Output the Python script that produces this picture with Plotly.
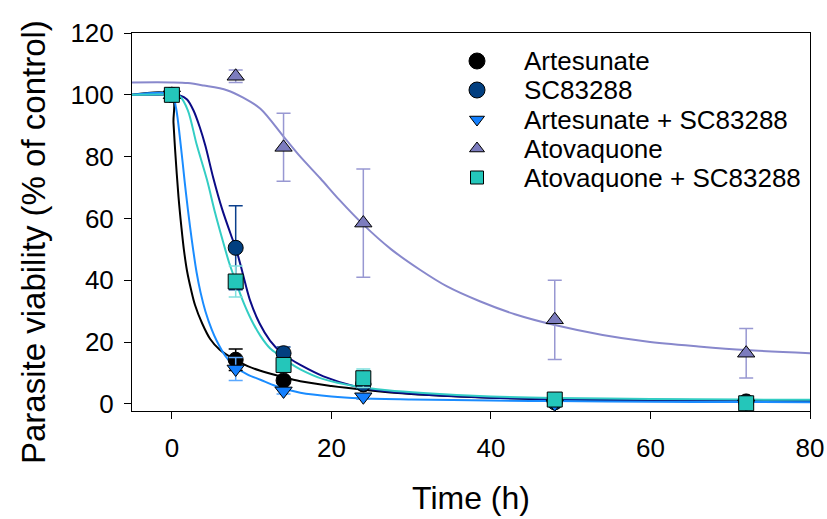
import plotly.graph_objects as go

# ---------------- data ----------------
time_h = [0, 8, 14, 24, 48, 72]

artesunate = [100, 14.3, 7.6, 6.3, 0.8, 0.8]
artesunate_err = [0, 3.5, 1.0, 1.0, 0.5, 0.5]

sc83288 = [100, 50.5, 16.4, 6.5, 0.5, 0.6]
sc83288_err = [0, 13.6, 2.0, 1.5, 0.5, 0.5]

art_sc = [100, 11.3, 4.2, 2.3, 0.0, 0.0]
art_sc_err = [0, 3.7, 1.0, 0.8, 0.3, 0.3]

atovaquone = [100, 106, 83, 58.5, 27.2, 16.4]
atovaquone_err = [0, 2, 11, 17.5, 12.8, 8]

ato_sc = [100, 39.6, 12.6, 8.3, 1.4, 0.2]
ato_sc_err = [0, 5, 1.5, 3, 0.5, 0.3]

# fitted curves
fit_art_t = [-5, 0, 0.2, 0.41, 0.83, 1.2, 1.5, 1.9, 2.4, 2.9, 3.8, 4.8, 6, 7.9, 9.5, 11.1,
             13.6, 16.1, 20, 24, 30, 40, 48, 60, 72, 80]
fit_art_v = [100, 100, 91, 82, 67, 57, 50, 43, 37, 32, 26, 21, 17.5, 14.3, 12.2, 10.7,
             8.9, 7.3, 5.8, 4.6, 3.2, 2.0, 1.4, 1.0, 0.8, 0.7]

fit_sc_t = [-5, 0, 1, 1.9, 2.7, 3.5, 4.2, 5.2, 6.3, 7.5, 8, 8.6, 9.2, 9.8, 11, 12.3, 13.8,
            14.8, 16.1, 19, 23.2, 27, 31.5, 40, 48, 60, 72, 80]
fit_sc_v = [100, 100, 99.8, 98.5, 95, 89.5, 83.5, 73, 63, 54, 50.5, 45, 39, 33.5, 26, 20.5, 16.4,
            14.6, 12.6, 8.9, 5.5, 4.0, 3.0, 2.0, 1.5, 1.3, 1.15, 1.1]

fit_artsc_t = [-5, 0, 0.5, 1.1, 1.6, 2.0, 2.5, 3.1, 3.6, 4.2, 5.0, 5.6, 6.7, 7.9, 9.5, 11.1,
               13, 14.8, 16.1, 20, 23.6, 30, 40, 48, 60, 72, 80]
fit_artsc_v = [100, 100, 96, 84, 72, 63, 53, 42.5, 36, 30, 24, 20.5, 15.5, 12, 9.5, 7.8,
               5.8, 4.4, 3.6, 2.4, 1.8, 1.4, 1.1, 0.9, 0.7, 0.6, 0.55]

fit_ato_t = [-5, 0, 2, 4, 6.9, 9, 11.1, 14, 16.1, 18.6, 21, 24, 27.5, 31.1, 34.5, 38.6, 43,
             48, 54, 59.5, 66, 72, 80]
fit_ato_v = [104, 104, 103.8, 103, 101.5, 99, 95.5, 86.5, 80, 73, 66, 58, 50, 43.4, 38, 33.2, 29,
             25.5, 22.3, 20.2, 18.6, 17.4, 16.4]

fit_atosc_t = [-5, 0, 1, 2, 3.1, 4.4, 5.4, 6.3, 7.2, 8, 8.8, 10, 11.1, 12.3, 13.6, 14.8, 16.1,
               19, 23.2, 27, 31.5, 40, 48, 60, 72, 80]
fit_atosc_v = [100, 100, 99.5, 95, 84, 72.5, 62, 53.5, 45.5, 39.7, 34, 27, 22, 18, 15.5, 13.2, 11.2,
               8, 5.6, 4.4, 3.5, 2.4, 1.9, 1.6, 1.4, 1.3]

x_ticks = [0, 20, 40, 60, 80]
y_ticks = [0, 20, 40, 60, 80, 100, 120]

series_names = ["Artesunate", "SC83288", "Artesunate + SC83288", "Atovaquone", "Atovaquone + SC83288"]
x_title = "Time (h)"
y_title = "Parasite viability (% of control)"

# ---------------- styles ----------------
FONT = "Liberation Sans, Arial, sans-serif"
W, H = 827, 519
ML, MR, MT, MB = 132, 17, 33, 108
styles = [
    dict(marker="#000000", line="#000000", err="#000000", symbol="circle"),
    dict(marker="#023f80", line="#0b0b86", err="#0b3f8c", symbol="circle"),
    dict(marker="#1480ff", line="#1a8cff", err="#5aa8ff", symbol="triangle-down"),
    dict(marker="#7c7cbe", line="#8888cc", err="#9898d2", symbol="triangle-up"),
    dict(marker="#24c6ba", line="#33cdc4", err="#80e0de", symbol="square"),
]
values = [artesunate, sc83288, art_sc, atovaquone, ato_sc]
errors = [artesunate_err, sc83288_err, art_sc_err, atovaquone_err, ato_sc_err]
fits = [(fit_art_t, fit_art_v), (fit_sc_t, fit_sc_v), (fit_artsc_t, fit_artsc_v),
        (fit_ato_t, fit_ato_v), (fit_atosc_t, fit_atosc_v)]

fig = go.Figure()

# curves first
for (ft, fv), st in zip(fits, styles):
    fig.add_trace(go.Scatter(x=ft, y=fv, mode="lines",
                             line=dict(color=st["line"], width=2, shape="spline", smoothing=0.9),
                             hoverinfo="skip", showlegend=False, cliponaxis=True))

# markers with error bars
for name, v, e, st in zip(series_names, values, errors, styles):
    fig.add_trace(go.Scatter(
        x=time_h, y=v, mode="markers", name=name,
        marker=dict(symbol=st["symbol"], size=15, color=st["marker"],
                    line=dict(color="#000000", width=1)),
        error_y=dict(type="data", array=e, color=st["err"], thickness=1.5, width=7),
        showlegend=False, cliponaxis=False))

# manual legend on an overlay axis expressed in pixel units of the plot area
legend_marker_x = 477
legend_text_x = 522
legend_rows = [61, 90, 119.5, 148.5, 177.5]
legend_sizes = [16, 16, 13, 13, 13]
for name, st, yy, sz in zip(series_names, styles, legend_rows, legend_sizes):
    fig.add_trace(go.Scatter(
        x=[legend_marker_x], y=[yy], mode="markers", xaxis="x2", yaxis="y2",
        marker=dict(symbol=st["symbol"], size=sz, color=st["marker"],
                    line=dict(color="#000000", width=1)),
        hoverinfo="skip", showlegend=False))
    fig.add_annotation(x=legend_text_x, y=yy, xref="x2", yref="y2", text=name,
                       showarrow=False, xanchor="left", yanchor="middle",
                       font=dict(family=FONT, size=26, color="#000000"))

# y-axis title (placed as in the reference, slightly below plot centre)
pw, ph = W - ML - MR, H - MT - MB
fig.add_annotation(x=(33 - ML) / pw, y=(H - MB - 242) / ph, xref="paper", yref="paper",
                   text=y_title, textangle=-90, showarrow=False,
                   xanchor="center", yanchor="middle",
                   font=dict(family=FONT, size=33, color="#000000"))

axis_common = dict(showgrid=False, zeroline=False, showline=True, linecolor="#000000",
                   linewidth=1, mirror=True, ticks="outside", ticklen=7, tickwidth=1,
                   tickcolor="#000000", tickfont=dict(family=FONT, size=26, color="#000000"))

fig.update_layout(
    width=W, height=H,
    margin=dict(l=ML, r=MR, t=MT, b=MB),
    plot_bgcolor="white", paper_bgcolor="white",
    showlegend=False,
    font=dict(family=FONT, color="#000000"),
    xaxis=dict(range=[-5, 80], tickvals=x_ticks, ticktext=[str(t) for t in x_ticks],
               title=dict(text=x_title, font=dict(family=FONT, size=32), standoff=24),
               ticklabelstandoff=7, automargin=False, **axis_common),
    yaxis=dict(range=[-2.3, 120], tickvals=y_ticks, ticktext=[str(t) for t in y_ticks],
               ticklabelstandoff=5, automargin=False, **axis_common),
    xaxis2=dict(overlaying="x", anchor="y2", range=[ML, W - MR], visible=False, fixedrange=True),
    yaxis2=dict(overlaying="y", anchor="x2", range=[H - MB, MT], visible=False, fixedrange=True),
)

fig.write_html("out.html")
